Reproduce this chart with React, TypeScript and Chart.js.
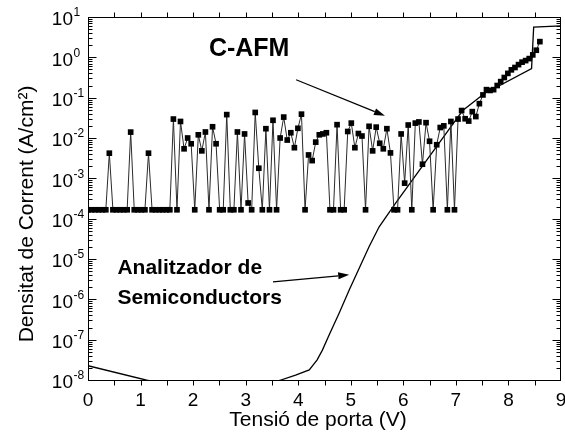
import React, { useEffect, useRef } from "react";
import { Chart, registerables } from "chart.js";

Chart.register(...registerables);

const FONT = '"Liberation Sans", Arial, Helvetica, sans-serif';

// ---- C-AFM measurement (gate voltage in V, current density in A/cm^2) ----
const cafmVoltage = [
  0, 0.068, 0.135, 0.203, 0.271, 0.339, 0.406, 0.474, 0.542, 0.609,
  0.677, 0.745, 0.812, 0.88, 0.948, 1.016, 1.083, 1.151, 1.219, 1.286,
  1.354, 1.422, 1.489, 1.557, 1.625, 1.693, 1.76, 1.828, 1.896, 1.963,
  2.031, 2.099, 2.166, 2.234, 2.302, 2.37, 2.437, 2.505, 2.573, 2.64,
  2.708, 2.776, 2.843, 2.911, 2.979, 3.047, 3.114, 3.182, 3.25, 3.317,
  3.385, 3.453, 3.52, 3.588, 3.656, 3.724, 3.791, 3.859, 3.927, 3.994,
  4.062, 4.13, 4.197, 4.265, 4.333, 4.401, 4.468, 4.536, 4.604, 4.671,
  4.739, 4.807, 4.874, 4.942, 5.01, 5.078, 5.145, 5.213, 5.281, 5.348,
  5.416, 5.484, 5.551, 5.619, 5.687, 5.755, 5.822, 5.89, 5.958, 6.025,
  6.093, 6.161, 6.228, 6.296, 6.364, 6.432, 6.499, 6.567, 6.635, 6.702,
  6.77, 6.838, 6.905, 6.973, 7.041, 7.109, 7.176, 7.244, 7.312, 7.379,
  7.447, 7.515, 7.582, 7.65, 7.718, 7.786, 7.853, 7.921, 7.989, 8.056,
  8.124, 8.192, 8.259, 8.327, 8.395, 8.463, 8.53, 8.598,
];
const cafmCurrent = [
  1.66e-4, 1.66e-4, 1.66e-4, 1.66e-4, 1.66e-4, 1.66e-4, 4.2e-3, 1.66e-4, 1.66e-4, 1.66e-4,
  1.66e-4, 1.66e-4, 1.4e-2, 1.66e-4, 1.66e-4, 1.66e-4, 1.66e-4, 4.2e-3, 1.66e-4, 1.66e-4,
  1.66e-4, 1.66e-4, 1.66e-4, 1.66e-4, 2.95e-2, 1.66e-4, 2.57e-2, 5.4e-3, 1.0e-2, 7.2e-3,
  1.66e-4, 1.2e-2, 4.8e-3, 1.41e-2, 1.66e-4, 1.9e-2, 7.2e-3, 1.66e-4, 1.66e-4, 3.8e-2,
  1.66e-4, 1.66e-4, 1.41e-2, 1.66e-4, 1.26e-2, 2.45e-4, 1.66e-4, 4.3e-2, 1.78e-3, 1.66e-4,
  1.7e-2, 1.66e-4, 2.75e-2, 1.66e-4, 1.0e-2, 3.3e-2, 8.9e-3, 1.35e-2, 5.75e-3, 1.74e-2,
  3.9e-2, 1.66e-4, 3.8e-3, 2.75e-3, 7.9e-3, 1.2e-2, 1.26e-2, 1.35e-2, 1.66e-4, 1.66e-4,
  2.14e-2, 1.66e-4, 1.66e-4, 1.45e-2, 2.34e-2, 5.75e-3, 1.29e-2, 1.12e-2, 1.66e-4, 1.95e-2,
  4.8e-3, 1.86e-2, 7.4e-3, 5.4e-3, 1.7e-2, 4.27e-3, 1.66e-4, 1.66e-4, 1.26e-2, 7.6e-4,
  2.1e-2, 1.66e-4, 2.34e-2, 2.5e-2, 2.24e-3, 2.4e-2, 8.3e-3, 1.66e-4, 6.8e-3, 1.82e-2,
  2.0e-2, 1.66e-4, 2.57e-2, 1.66e-4, 2.95e-2, 4.8e-2, 3.0e-2, 2.63e-2, 4.5e-2, 3.4e-2,
  7.1e-2, 0.117, 0.158, 0.151, 0.158, 0.2, 0.25, 0.316, 0.4, 0.49,
  0.56, 0.66, 0.76, 0.83, 0.93, 1.15, 1.5, 2.45,
];

// ---- Semiconductor analyzer curve ----
const analyzerVoltage = [
  0, 1.1, 2.0, 3.0, 3.4, 3.67, 3.95, 4.21, 4.36, 4.46, 4.59, 4.78,
  4.97, 5.16, 5.35, 5.54, 5.85, 7.0, 7.13, 7.53, 8.44, 8.48, 9.0,
];
const analyzerCurrent = [
  2.26e-8, 1.0e-8, 5.6e-9, 5.6e-9, 7.6e-9, 1.0e-8, 1.32e-8, 1.78e-8, 3.16e-8, 5.5e-8, 1.32e-7, 4.57e-7,
  1.7e-6, 5.9e-6, 2.04e-5, 6.3e-5, 2.4e-4, 2.8e-2, 4.8e-2, 0.123, 0.525, 5.6, 6.0,
];

// ---- axes ----
const xTickValues = [0, 1, 2, 3, 4, 5, 6, 7, 8, 9];
const xSmallTicks = [0.5, 1, 1.5, 2, 2.5, 3, 3.5, 4, 4.5, 5, 5.5, 6, 6.5, 7, 7.5, 8, 8.5];
const yExponents = [1, 0, -1, -2, -3, -4, -5, -6, -7, -8];
const yMinorMantissas = [2, 3, 4, 5, 6, 7, 8, 9];

const xTitle = "Tensió de porta (V)";
const yTitle = "Densitat de Corrent (A/cm²)";
const labelCafm = "C-AFM";
const labelAnalyzer1 = "Analitzador de";
const labelAnalyzer2 = "Semiconductors";

// annotation anchors, in data coordinates
const cafmLabelAnchor = { x: 2.3, y: 1.58 };
const cafmArrowFrom = { x: 3.96, y: 0.278 };
const cafmArrowTo = { x: 5.65, y: 0.0355 };
const analyzerLabelAnchor = { x: 0.56, y1: 6.0e-6, y2: 1.08e-6 };
const analyzerArrowFrom = { x: 3.52, y: 2.7e-6 };
const analyzerArrowTo = { x: 4.97, y: 4.07e-6 };

function drawArrow(ctx: CanvasRenderingContext2D, x0: number, y0: number, x1: number, y1: number) {
  const ang = Math.atan2(y1 - y0, x1 - x0);
  const L = 11;
  const W = 3.5;
  const bx = x1 - L * Math.cos(ang);
  const by = y1 - L * Math.sin(ang);
  ctx.beginPath();
  ctx.moveTo(x0, y0);
  ctx.lineTo(bx, by);
  ctx.stroke();
  ctx.beginPath();
  ctx.moveTo(x1, y1);
  ctx.lineTo(bx + W * Math.sin(ang), by - W * Math.cos(ang));
  ctx.lineTo(bx - W * Math.sin(ang), by + W * Math.cos(ang));
  ctx.closePath();
  ctx.fill();
}

const decorPlugin = {
  id: "decor",
  afterDraw(chart: any) {
    const { ctx, chartArea: a, scales } = chart;
    const xs = scales.x;
    const ys = scales.y;
    ctx.save();
    ctx.strokeStyle = "#000";
    ctx.fillStyle = "#000";
    ctx.lineWidth = 1;

    // frame
    ctx.strokeRect(Math.round(a.left) + 0.5, Math.round(a.top) + 0.5, Math.round(a.right - a.left) - 1, Math.round(a.bottom - a.top));

    const line = (x0: number, y0: number, x1: number, y1: number) => {
      ctx.beginPath();
      ctx.moveTo(x0, y0);
      ctx.lineTo(x1, y1);
      ctx.stroke();
    };
    // y ticks (inward, both sides)
    const L = Math.round(a.left) + 0.5;
    const R = Math.round(a.right) - 0.5;
    yExponents.forEach((e) => {
      const y = Math.round(ys.getPixelForValue(Math.pow(10, e))) + 0.5;
      line(L, y, L + 8, y);
      line(R, y, R - 8, y);
      if (e > -8) {
        yMinorMantissas.forEach((m) => {
          const ym = Math.round(ys.getPixelForValue(m * Math.pow(10, e - 1))) + 0.5;
          line(L, ym, L + 4, ym);
          line(R, ym, R - 4, ym);
        });
      }
    });
    // x ticks (outward, top and bottom)
    const B = Math.round(a.bottom) + 0.5;
    const T = Math.round(a.top) + 0.5;
    xSmallTicks.forEach((v) => {
      const x = Math.round(xs.getPixelForValue(v)) + 0.5;
      line(x, B, x, B + 5);
      line(x, T, x, T - 5);
    });

    // y tick labels 10^n
    yExponents.forEach((e) => {
      const y = ys.getPixelForValue(Math.pow(10, e));
      ctx.font = `19px ${FONT}`;
      ctx.textAlign = "right";
      ctx.textBaseline = "middle";
      ctx.fillText("10", 73, y + 3);
      ctx.font = `12px ${FONT}`;
      ctx.textAlign = "left";
      ctx.textBaseline = "middle";
      ctx.fillText(String(e), 73.5, y - 4);
    });

    // axis titles
    ctx.font = `21px ${FONT}`;
    ctx.textAlign = "center";
    ctx.textBaseline = "middle";
    ctx.fillText(xTitle, 318, 420);
    ctx.save();
    ctx.translate(27, 214);
    ctx.rotate(-Math.PI / 2);
    ctx.fillText(yTitle, 0, 0);
    ctx.restore();

    // annotations
    ctx.font = `bold 25px ${FONT}`;
    ctx.textAlign = "left";
    ctx.fillText(labelCafm, xs.getPixelForValue(cafmLabelAnchor.x), ys.getPixelForValue(cafmLabelAnchor.y));
    ctx.font = `bold 21px ${FONT}`;
    ctx.fillText(labelAnalyzer1, xs.getPixelForValue(analyzerLabelAnchor.x), ys.getPixelForValue(analyzerLabelAnchor.y1));
    ctx.fillText(labelAnalyzer2, xs.getPixelForValue(analyzerLabelAnchor.x), ys.getPixelForValue(analyzerLabelAnchor.y2));

    ctx.lineWidth = 1.2;
    drawArrow(
      ctx,
      xs.getPixelForValue(cafmArrowFrom.x), ys.getPixelForValue(cafmArrowFrom.y),
      xs.getPixelForValue(cafmArrowTo.x), ys.getPixelForValue(cafmArrowTo.y)
    );
    drawArrow(
      ctx,
      xs.getPixelForValue(analyzerArrowFrom.x), ys.getPixelForValue(analyzerArrowFrom.y),
      xs.getPixelForValue(analyzerArrowTo.x), ys.getPixelForValue(analyzerArrowTo.y)
    );
    ctx.restore();
  },
};

export default function App() {
  const ref = useRef<HTMLCanvasElement>(null);
  useEffect(() => {
    const cafmData = cafmVoltage.map((v, i) => ({ x: v, y: cafmCurrent[i] }));
    const analyzerData = analyzerVoltage.map((v, i) => ({ x: v, y: analyzerCurrent[i] }));
    const chart = new Chart(ref.current as HTMLCanvasElement, {
      type: "scatter",
      data: {
        datasets: [
          {
            label: "C-AFM",
            data: cafmData,
            showLine: true,
            borderColor: "#2a2a2a",
            borderWidth: 1,
            pointStyle: "rect",
            pointRadius: 4,
            pointBorderWidth: 0,
            pointBackgroundColor: "#000",
            tension: 0,
          },
          {
            label: "Analitzador de Semiconductors",
            data: analyzerData,
            showLine: true,
            borderColor: "#000",
            borderWidth: 1.3,
            pointRadius: 0,
            tension: 0,
          },
        ],
      },
      options: {
        animation: false,
        responsive: false,
        devicePixelRatio: 1,
        layout: { padding: { top: 17, right: 2, left: 0, bottom: 0 } },
        plugins: { legend: { display: false }, tooltip: { enabled: false } },
        scales: {
          x: {
            type: "linear",
            min: 0,
            max: 9,
            position: "bottom",
            afterBuildTicks: (s: any) => {
              s.ticks = xTickValues.map((v) => ({ value: v }));
            },
            ticks: {
              color: "#000",
              font: { family: FONT, size: 19 },
              padding: 9,
              maxRotation: 0,
              autoSkip: false,
              callback: (v: any) => String(v),
            },
            grid: { display: false, drawTicks: false },
            border: { display: false },
            afterFit: (s: any) => {
              s.height = 55;
              s.paddingLeft = 0;
              s.paddingRight = 0;
            },
          },
          y: {
            type: "logarithmic",
            min: 1e-8,
            max: 10,
            ticks: { display: false },
            grid: { display: false, drawTicks: false },
            border: { display: false },
            afterFit: (s: any) => {
              s.width = 88;
              s.paddingTop = 0;
              s.paddingBottom = 0;
            },
          },
        },
      },
      plugins: [decorPlugin],
    } as any);
    return () => chart.destroy();
  }, []);
  return (
    <div style={{ position: "fixed", left: 0, top: 0, width: 565, height: 435, background: "#fff" }}>
      <canvas ref={ref} width={565} height={435} style={{ display: "block" }} />
    </div>
  );
}
